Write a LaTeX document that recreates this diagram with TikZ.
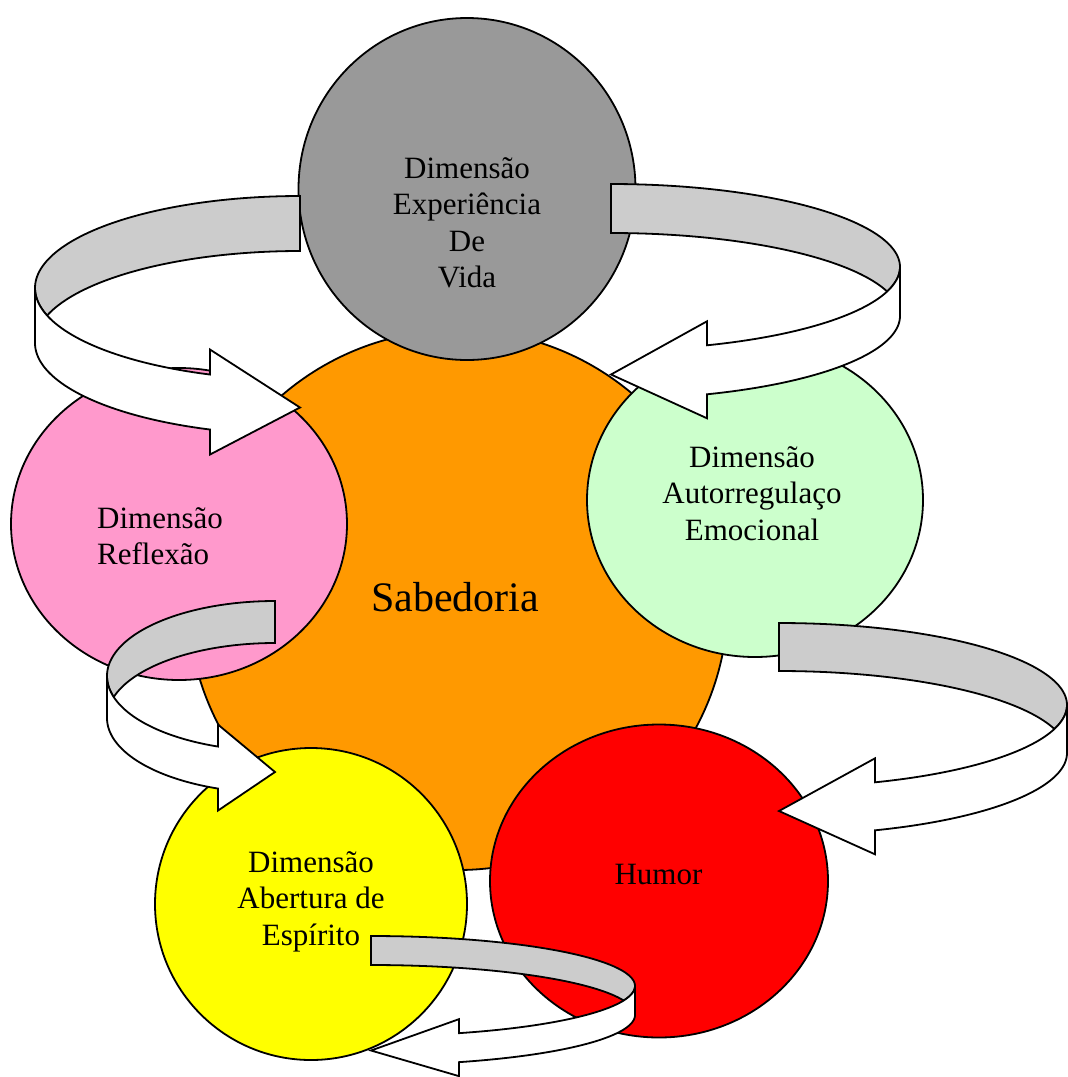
\documentclass[tikz,border=0pt]{standalone}
\usepackage{fontspec}
\setmainfont{Liberation Serif}
\usetikzlibrary{shapes.geometric}

\definecolor{expgray}{HTML}{999999}
\definecolor{sabor}{HTML}{FF9900}
\definecolor{reflpink}{HTML}{FF99CC}
\definecolor{autogreen}{HTML}{CCFFCC}
\definecolor{humred}{HTML}{FF0000}
\definecolor{abyellow}{HTML}{FFFF00}
\definecolor{ribbongray}{HTML}{CCCCCC}

\tikzset{
  dim/.style={ellipse, draw=black, line width=1.8pt, inner sep=0pt, outer sep=0pt},
  label31/.style={inner sep=0pt, font=\fontsize{31}{36.5}\selectfont},
  ribbonback/.style={fill=ribbongray, draw=black, line width=1.8pt, line join=miter},
  ribbonfront/.style={fill=white, draw=black, line width=1.8pt, line join=miter},
}

\newcommand\centerlines[1]{\begin{tabular}[t]{@{}c@{}}#1\end{tabular}}
\newcommand\leftlines[1]{\begin{tabular}[t]{@{}l@{}}#1\end{tabular}}

% Curved ribbon arrow: #1,#2 centre of the upper ellipse, #3,#4 its radii,
% #5 ribbon height, #6 distance of the arrow-head base from the centre,
% #7 head overhang, #8 = 1 opens to the left, -1 opens to the right.
\newcommand\ribbonarrow[8]{%
  \begin{scope}[shift={(#1,#2)}, xscale=#8]
    \pgfmathsetmacro\ra{#3}
    \pgfmathsetmacro\rb{#4}
    \pgfmathsetmacro\rh{#5}
    \pgfmathsetmacro\ral{asin(#5/(2*#4))}
    \pgfmathsetmacro\tja{180-\ral}
    \pgfmathsetmacro\tjb{180+\ral}
    \pgfmathsetmacro\tb{180-acos(#6/#3)}
    \pgfmathsetmacro\yin{#4*sin(\tb)-#7}
    \pgfmathsetmacro\yout{#5+#4*sin(\tb)+#7}
    \pgfmathsetmacro\ytip{#4+#5/2}
    \filldraw[ribbonback]
      plot[domain=270:\tja, samples=70, variable=\t] ({\ra*cos(\t)},{\rb*sin(\t)})
      -- plot[domain=\tjb:270, samples=70, variable=\t] ({\ra*cos(\t)},{\rh+\rb*sin(\t)})
      -- cycle;
    \filldraw[ribbonfront]
      (-\ra,0)
      -- plot[domain=180:\tb, samples=70, variable=\t] ({\ra*cos(\t)},{\rh+\rb*sin(\t)})
      -- (-#6,\yout) -- (0,\ytip) -- (-#6,\yin)
      -- plot[domain=\tb:180, samples=70, variable=\t] ({\ra*cos(\t)},{\rb*sin(\t)})
      -- cycle;
  \end{scope}}

\begin{document}
\begin{tikzpicture}[x=1pt, y=-1pt]
  \path[use as bounding box] (0,0) rectangle (1068,1077);
  \clip (0,0) rectangle (1068,1077);

  % central circle
  \node[dim, fill=sabor, minimum width=540pt, minimum height=540pt] (sab) at (458,600) {};

  % the five dimensions
  \node[dim, fill=expgray, minimum width=337pt, minimum height=342pt] (exp) at (467,189) {};
  \node[dim, fill=reflpink, minimum width=336pt, minimum height=312pt] (refl) at (179,524) {};
  \node[dim, fill=autogreen, minimum width=336pt, minimum height=314pt] (auto) at (755,500) {};
  \node[dim, fill=humred, minimum width=338pt, minimum height=313pt] (hum) at (659,881) {};
  \node[dim, fill=abyellow, minimum width=312pt, minimum height=312pt] (abe) at (311,904) {};

  % labels
  \node[inner sep=0pt, font=\fontsize{42}{48}\selectfont, anchor=base] (sabtxt) at (455,611) {Sabedoria};
  \node[label31, anchor=base] (exptxt) at (467,178) {\centerlines{Dimensão\\Experiência\\De\\Vida}};
  \node[label31, anchor=base west] (refltxt) at (97,528) {\leftlines{Dimensão\\Reflexão}};
  \node[label31, anchor=base] (autotxt) at (752,467) {\centerlines{Dimensão\\Autorregulaço\\Emocional}};
  \node[label31, anchor=base] (humtxt) at (658.5,884) {Humor};
  \node[label31, anchor=base] (abetxt) at (311,872) {\centerlines{Dimensão\\Abertura de\\Espírito}};

  % curved arrows between the dimensions
  \ribbonarrow{300}{288}{265}{92}{55}{90}{25}{1}
  \ribbonarrow{611}{267}{289}{83}{49}{96}{24}{-1}
  \ribbonarrow{779}{705}{288}{82}{48}{96}{24}{-1}
  \ribbonarrow{275}{676}{168}{75}{42}{57}{22}{1}
  \ribbonarrow{371}{986}{264}{50}{29}{88}{14}{-1}
\end{tikzpicture}
\end{document}
